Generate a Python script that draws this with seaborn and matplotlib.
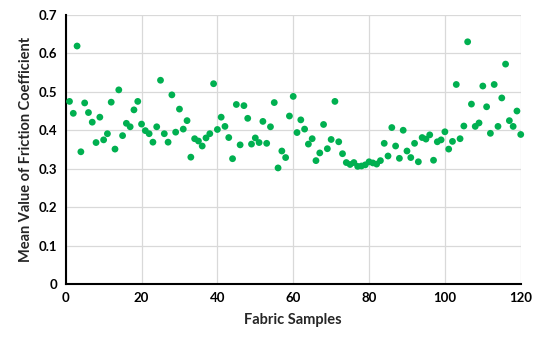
import matplotlib
matplotlib.use("Agg")
import matplotlib.pyplot as plt
import seaborn as sns
import pandas as pd

samples = list(range(1, 121))
friction = [
    0.475, 0.444, 0.619, 0.344, 0.471, 0.446, 0.421, 0.368, 0.434, 0.375,
    0.391, 0.473, 0.351, 0.505, 0.386, 0.418, 0.409, 0.453, 0.475, 0.416,
    0.399, 0.391, 0.369, 0.409, 0.530, 0.391, 0.369, 0.492, 0.395, 0.455,
    0.403, 0.425, 0.330, 0.378, 0.372, 0.359, 0.380, 0.391, 0.521, 0.402,
    0.434, 0.410, 0.381, 0.326, 0.467, 0.362, 0.464, 0.431, 0.364, 0.380,
    0.368, 0.423, 0.366, 0.409, 0.472, 0.302, 0.346, 0.329, 0.437, 0.488,
    0.394, 0.427, 0.403, 0.364, 0.378, 0.321, 0.341, 0.415, 0.352, 0.376,
    0.475, 0.370, 0.339, 0.316, 0.311, 0.316, 0.306, 0.307, 0.310, 0.318,
    0.315, 0.312, 0.321, 0.366, 0.333, 0.407, 0.359, 0.327, 0.400, 0.346,
    0.329, 0.366, 0.318, 0.381, 0.377, 0.388, 0.322, 0.370, 0.375, 0.396,
    0.351, 0.371, 0.519, 0.378, 0.411, 0.630, 0.468, 0.410, 0.419, 0.515,
    0.461, 0.392, 0.519, 0.410, 0.484, 0.572, 0.425, 0.410, 0.450, 0.389,
]
x_ticks = [0, 20, 40, 60, 80, 100, 120]
y_ticks = [0, 0.1, 0.2, 0.3, 0.4, 0.5, 0.6, 0.7]
y_tick_labels = ["0", "0.1", "0.2", "0.3", "0.4", "0.5", "0.6", "0.7"]

sns.set_style("white")
plt.rcParams["font.family"] = ["Lato", "DejaVu Sans"]

df = pd.DataFrame({"Fabric Samples": samples, "Friction": friction})

fig = plt.figure(figsize=(5.43, 3.46), dpi=100)
ax = fig.add_axes([0.121, 0.179, 0.838, 0.778])

ax.grid(True, color="#d9d9d9", linewidth=0.9, zorder=0)
ax.set_axisbelow(True)

sns.scatterplot(data=df, x="Fabric Samples", y="Friction", ax=ax,
                color="#00B050", s=24, edgecolor="none", zorder=3,
                clip_on=False)

ax.set_xlim(0, 120)
ax.set_ylim(0, 0.7)
ax.set_xticks(x_ticks)
ax.set_yticks(y_ticks)
ax.set_yticklabels(y_tick_labels)
ax.tick_params(axis="both", direction="in", length=4, width=1.2, color="black",
               labelsize=9.5, pad=6)
for lab in ax.get_xticklabels() + ax.get_yticklabels():
    lab.set_fontweight("bold")
    lab.set_color("black")

for side in ["top", "right"]:
    ax.spines[side].set_visible(False)
for side in ["left", "bottom"]:
    ax.spines[side].set_color("black")
    ax.spines[side].set_linewidth(1.5)

ax.set_xlabel("Fabric Samples", fontsize=10.5, fontweight="bold", labelpad=6)
ax.set_ylabel("Mean Value of Friction Coefficient", fontsize=10.5,
              fontweight="bold", labelpad=4)

fig.savefig("out.png", dpi=100)
